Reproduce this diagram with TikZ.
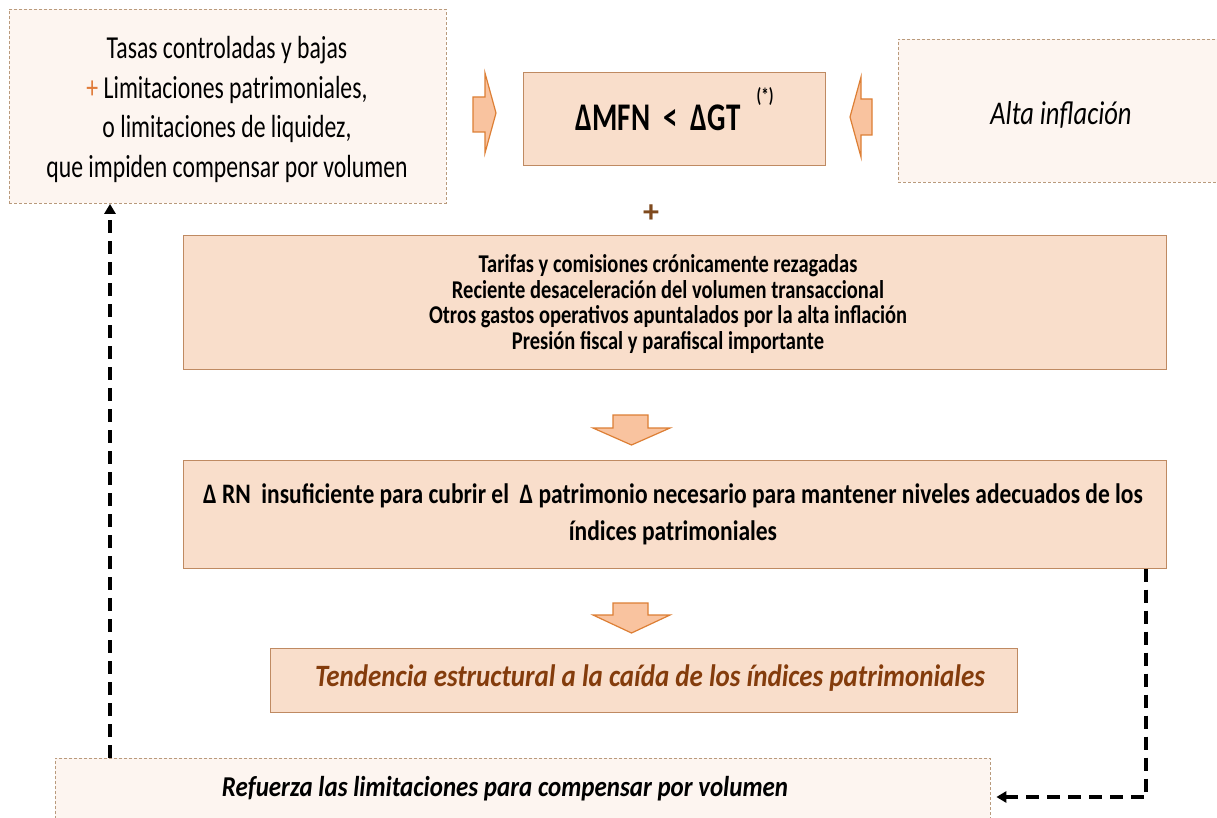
\documentclass[tikz,border=0pt]{standalone}
\usepackage{fontspec}
\setmainfont{Carlito}
\usepackage{graphicx}
\usetikzlibrary{arrows.meta}
\definecolor{boxfill}{HTML}{F9DECB}
\definecolor{boxline}{HTML}{BF8A62}
\definecolor{dashfill}{HTML}{FDF5F0}
\definecolor{dashline}{HTML}{B99A7C}
\definecolor{arrfill}{HTML}{F9C39F}
\definecolor{arrline}{HTML}{DD7F35}
\definecolor{plusorange}{HTML}{E07B39}
\definecolor{plusbrown}{HTML}{7F4A1E}
\definecolor{darkbrown}{HTML}{843C0C}
\newcommand{\vst}[2][1.35]{\scalebox{1}[#1]{\begin{tabular}{@{}c@{}}#2\end{tabular}}}
\begin{document}
\begin{tikzpicture}[x=1pt,y=-1pt,
  solidbox/.style={draw=boxline, fill=boxfill, line width=1pt, inner sep=0pt},
  dashbox/.style={draw=dashline, fill=dashfill, line width=0.7pt, dash pattern=on 3pt off 2pt, inner sep=0pt},
  blockarrow/.style={draw=arrline, fill=arrfill, line width=1.2pt, line join=miter},
  link/.style={draw=black, line width=3.2pt, dash pattern=on 13pt off 8pt, -{Triangle[length=10pt,width=11pt]}},
  txt/.style={inner sep=0pt}]
\useasboundingbox (0,0) rectangle (1217,818);
\fill[white] (0,0) rectangle (1217,818);

% boxes
\node[dashbox, minimum width=437pt, minimum height=194pt] (cond) at (227.5,106.5) {};
\node[txt] (condtext) at (227,110)
  {\fontsize{23.7}{29.6}\selectfont\vst{Tasas controladas y bajas\\ {\color{plusorange}+} Limitaciones patrimoniales,\\ o limitaciones de liquidez,\\ que impiden compensar por volumen}};

\node[solidbox, minimum width=302pt, minimum height=93pt] (mfn) at (674,119.5) {};
\node[txt] (mfntext) at (658,121) {\fontsize{29}{34}\selectfont\bfseries\vst{ΔMFN\ \ <\ \ ΔGT}};
\node[txt] (star) at (765,98) {\fontsize{15}{17}\selectfont\bfseries\vst{(*)}};

\node[dashbox, minimum width=332pt, minimum height=143pt] (alta) at (1064,110.5) {};
\node[txt] (altatext) at (1061,117) {\fontsize{26.5}{30}\selectfont\itshape\vst[1.25]{Alta inflación}};

\node[txt] (plus) at (651,214) {\fontsize{32}{32}\selectfont\bfseries\color{plusbrown}+};

\node[solidbox, minimum width=983pt, minimum height=133pt] (big) at (674.5,302.5) {};
\node[txt] (bigtext) at (668,306)
  {\fontsize{20.5}{20.4}\selectfont\bfseries\vst[1.25]{Tarifas y comisiones crónicamente rezagadas\\ Reciente desaceleración del volumen transaccional\\ Otros gastos operativos apuntalados\ por la alta inflación\\ Presión fiscal y parafiscal importante}};

\node[solidbox, minimum width=983pt, minimum height=108pt] (rn) at (674.5,514) {};
\node[txt] (rntext) at (673,515)
  {\fontsize{23.5}{30.8}\selectfont\bfseries\vst[1.2]{Δ RN\ \ insuficiente para cubrir el\ \ Δ patrimonio necesario para mantener niveles adecuados de los\\ índices patrimoniales}};

\node[solidbox, minimum width=747pt, minimum height=64pt] (tend) at (643.5,680) {};
\node[txt] (tendtext) at (650,680)
  {\fontsize{27}{30}\selectfont\bfseries\itshape\color{darkbrown}\vst[1.15]{Tendencia estructural a la caída de los índices patrimoniales}};

\node[dashbox, minimum width=935pt, minimum height=67pt] (ref) at (522.5,791.5) {};
\node[txt] (reftext) at (505,790) {\fontsize{25}{28}\selectfont\bfseries\itshape\vst[1.15]{Refuerza las limitaciones para compensar por volumen}};

% block arrows
\draw[blockarrow] (473,97) -- (485,97) -- (485,73) -- (496,113) -- (485,153) -- (485,132) -- (473,132) -- cycle;
\draw[blockarrow] (872,99) -- (861,99) -- (861,77) -- (850,117) -- (861,157) -- (861,135) -- (872,135) -- cycle;
\draw[blockarrow] (613,415) -- (648,415) -- (648,428) -- (670,428) -- (631.5,445) -- (593,428) -- (613,428) -- cycle;
\draw[blockarrow] (613,603) -- (648,603) -- (648,615) -- (670,615) -- (631.5,633) -- (593,615) -- (613,615) -- cycle;

% feedback connectors
\coordinate (fbL) at (110,0);
\coordinate (fbR) at (1146,0);
\coordinate (fbY) at (0,797);
\draw[link] (fbL |- ref.north) -- (fbL |- cond.south);
\draw[link, shorten >=6pt] (fbR |- rn.south) -- (fbR |- fbY) -- (ref.east |- fbY);
\end{tikzpicture}
\end{document}
